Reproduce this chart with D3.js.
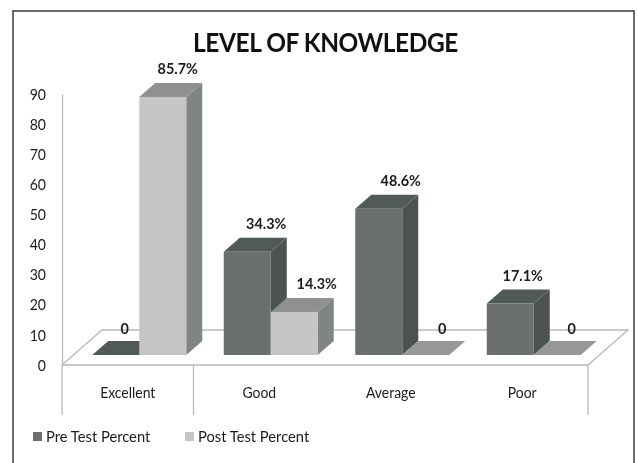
<!DOCTYPE html>
<html>
<head>
<meta charset="utf-8">
<script src="https://cdn.jsdelivr.net/npm/d3@7"></script>
<style>
html, body { margin: 0; padding: 0; background: #fff; }
svg { display: block; filter: blur(0.45px); }
text { font-family: Lato, "Open Sans", sans-serif; fill: #1c1c1c; }
</style>
</head>
<body>
<svg id="chart" width="638" height="463"></svg>
<script>
const categories = ['Excellent', 'Good', 'Average', 'Poor'];
const seriesNames = ['Pre Test Percent', 'Post Test Percent'];
const preTest = [0, 34.3, 48.6, 17.1];
const postTest = [85.7, 14.3, 0, 0];
const preLabels = ['0', '34.3%', '48.6%', '17.1%'];
const postLabels = ['85.7%', '14.3%', '0', '0'];
const yTicks = [0, 10, 20, 30, 40, 50, 60, 70, 80, 90];

const svg = d3.select('#chart');

// picture layout
const left = 62, right = 588, floorY = 365, topY = 94;
const floorDx = 40, floorDy = 35;   // depth of the floor
const barDx = 16, barDy = 14;       // depth of a bar
const insetDx = 11.5, insetDy = 10; // bars stand a bit behind the front edge

const skins = [
	{ front: '#6c6f70', side: '#4b5251', top: '#525a59' },
	{ front: '#c5c5c5', side: '#818485', top: '#909090' }
];

// the original font is narrower than Lato, so squeeze the text to fit
function squeeze(sel, k) {
	sel.each(function() {
		d3.select(this)
			.attr('textLength', this.getComputedTextLength() * k)
			.attr('lengthAdjust', 'spacingAndGlyphs');
	});
}

const x = d3.scaleBand().domain(categories).range([left, right]);
const y = d3.scaleLinear().domain([0, 90]).range([floorY, topY]);
const x1 = d3.scaleBand().domain([0, 1]).range([0, 94]);
const groupX = c => x(c) + (x.bandwidth() - 94) / 2 + insetDx;

// outer frame
svg.append('rect')
	.attr('x', 13).attr('y', 11)
	.attr('width', 621).attr('height', 470)
	.attr('fill', 'none')
	.attr('stroke', '#474747')
	.attr('stroke-width', 1.6);

svg.append('text')
	.attr('x', 325.5).attr('y', 52)
	.attr('text-anchor', 'middle')
	.style('font-size', '27.5px')
	.style('font-weight', 700)
	.style('letter-spacing', '-0.5px')
	.style('fill', '#111')
	.text('LEVEL OF KNOWLEDGE')
	.call(squeeze, 0.89);

// floor and wall lines
const lineColor = '#b9b9b9';
svg.append('path')
	.attr('d', d3.line()([
		[left, floorY], [left + floorDx, floorY - floorDy],
		[right + floorDx, floorY - floorDy], [right, floorY], [left, floorY]
	]))
	.attr('fill', 'none').attr('stroke', lineColor).attr('stroke-width', 1.3);

// y axis
const yAxis = svg.append('g')
	.attr('transform', `translate(${left},0)`)
	.call(d3.axisLeft(y).tickValues(yTicks).tickSize(0).tickPadding(16));
yAxis.select('.domain').attr('stroke', lineColor).attr('stroke-width', 1.3);
yAxis.selectAll('text')
	.style('font-size', '16px')
	.style('font-family', 'Lato, sans-serif')
	.call(squeeze, 0.88);

// x axis, the picture only has dividers at these three places
const xAxis = svg.append('g')
	.attr('transform', `translate(0,${floorY})`)
	.call(d3.axisBottom(x).tickSize(0).tickPadding(22));
xAxis.select('.domain').remove();
xAxis.selectAll('text')
	.style('font-size', '15.5px')
	.style('font-family', 'Lato, sans-serif')
	.call(squeeze, 0.9);
[left, x('Good'), right].forEach(p => {
	svg.append('line')
		.attr('x1', p).attr('x2', p)
		.attr('y1', floorY).attr('y2', 415)
		.attr('stroke', lineColor).attr('stroke-width', 1.3);
});

// bars
const rows = [];
categories.forEach((c, i) => {
	rows.push({ c: c, s: 0, v: preTest[i], label: preLabels[i] });
	rows.push({ c: c, s: 1, v: postTest[i], label: postLabels[i] });
});

const bar = svg.append('g').selectAll('g').data(rows).enter().append('g');

bar.each(function(d) {
	const g = d3.select(this);
	const x0 = groupX(d.c) + x1(d.s), w = x1.bandwidth();
	const base = floorY - insetDy, top = y(d.v) - insetDy;
	g.append('path').attr('fill', skins[d.s].side)
		.attr('d', d3.line()([[x0 + w, top], [x0 + w + barDx, top - barDy], [x0 + w + barDx, base - barDy], [x0 + w, base]]));
	g.append('path').attr('fill', d.v === 0 ? (d.s ? '#979797' : skins[0].top) : skins[d.s].top)
		.attr('d', d3.line()([[x0, top], [x0 + barDx, top - barDy], [x0 + w + barDx, top - barDy], [x0 + w, top]]));
	if (d.v > 0) g.append('rect').attr('fill', skins[d.s].front)
		.attr('x', x0).attr('y', top).attr('width', w).attr('height', base - top);
});

// value labels
const labelShift = { 'Excellent0': 9, 'Excellent1': 15, 'Good0': 19, 'Good1': 22.5, 'Average0': 22, 'Average1': 16.5, 'Poor0': 12.5, 'Poor1': 14.5 };
svg.append('g').selectAll('text').data(rows).enter().append('text')
	.attr('x', d => groupX(d.c) + x1(d.s) + x1.bandwidth() / 2 + labelShift[d.c + d.s])
	.attr('y', d => d.v === 0 ? 334 : y(d.v) - insetDy - barDy - 9)
	.attr('text-anchor', 'middle')
	.style('font-size', '15px')
	.style('font-weight', 700)
	.text(d => d.label)
	.call(squeeze, 0.96);

// legend
const legendX = d3.scalePoint().domain(seriesNames).range([33, 185]);
const legend = svg.append('g').selectAll('g').data(seriesNames).enter().append('g')
	.attr('transform', d => `translate(${legendX(d)},432)`);
legend.append('rect')
	.attr('width', 9).attr('height', 9)
	.attr('fill', (d, i) => skins[i].front);
legend.append('text')
	.attr('x', 13).attr('y', 10)
	.style('font-size', '16px')
	.text(d => d)
	.call(squeeze, 0.92);
</script>
</body>
</html>
